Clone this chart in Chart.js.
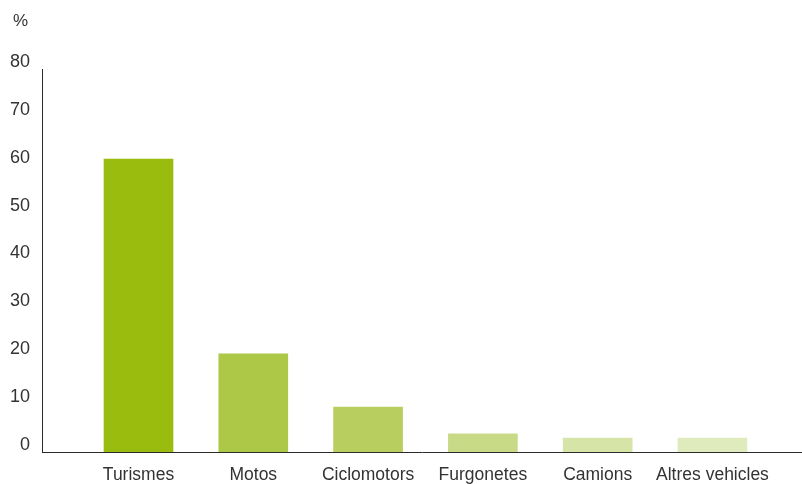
<!DOCTYPE html>
<html>
<head>
<meta charset="utf-8">
<script src="https://cdn.jsdelivr.net/npm/chart.js@4.4.1/dist/chart.umd.min.js"></script>
<style>
  html, body { margin: 0; padding: 0; background: #fff; }
  #wrap { width: 802px; height: 484px; position: relative; }
</style>
</head>
<body>
<div id="wrap"><canvas id="c" width="802" height="484"></canvas></div>
<script>
const categories = ['Turismes', 'Motos', 'Ciclomotors', 'Furgonetes', 'Camions', 'Altres vehicles'];
const values = [61.2, 20.5, 9.4, 3.8, 2.9, 2.9];
const barColors = ['#99bc0e', '#adc847', '#b8cf60', '#c8da86', '#d6e5a7', '#dfeabd'];
const yTicks = [0, 10, 20, 30, 40, 50, 60, 70, 80];
const unitLabel = '%';

const FONT = "'Liberation Sans', Arial, Helvetica, sans-serif";
const TEXT = '#333333';

const unitPlugin = {
  id: 'unitLabel',
  afterDraw(chart) {
    const ctx = chart.ctx;
    ctx.save();
    ctx.font = '17px ' + FONT;
    ctx.fillStyle = TEXT;
    ctx.textAlign = 'left';
    ctx.textBaseline = 'middle';
    ctx.fillText(unitLabel, 13, 21);
    ctx.restore();
  }
};

new Chart(document.getElementById('c'), {
  type: 'bar',
  data: {
    datasets: [{
      data: values.map((v, i) => ({ x: i, y: v })),
      backgroundColor: barColors,
      borderWidth: 0,
      barThickness: 69
    }]
  },
  options: {
    responsive: false,
    animation: false,
    layout: { padding: { top: 69, right: 0, bottom: 0, left: 0 } },
    plugins: { legend: { display: false }, tooltip: { enabled: false } },
    scales: {
      x: {
        type: 'linear',
        offset: false,
        min: -0.8406,
        max: 5.780,
        grid: { display: false, drawTicks: false, offset: false },
        border: { display: true, color: '#2a2a2a', width: 1 },
        afterBuildTicks: s => { s.ticks = categories.map((_, i) => ({ value: i })); },
        afterFit: s => { s.height = 32; },
        ticks: {
          autoSkip: false,
          maxRotation: 0,
          padding: 13,
          color: TEXT,
          font: { family: FONT, size: 17.5 },
          callback: v => categories[v] ?? ''
        }
      },
      y: {
        min: 0,
        max: 80,
        grid: { display: false, drawTicks: false },
        border: { display: true, color: '#2a2a2a', width: 1 },
        afterBuildTicks: s => { s.ticks = yTicks.map(v => ({ value: v })); },
        afterFit: s => { s.width = 42; },
        ticks: {
          padding: 12,
          labelOffset: -7,
          color: TEXT,
          font: { family: FONT, size: 18 }
        }
      }
    }
  },
  plugins: [unitPlugin]
});
</script>
</body>
</html>
